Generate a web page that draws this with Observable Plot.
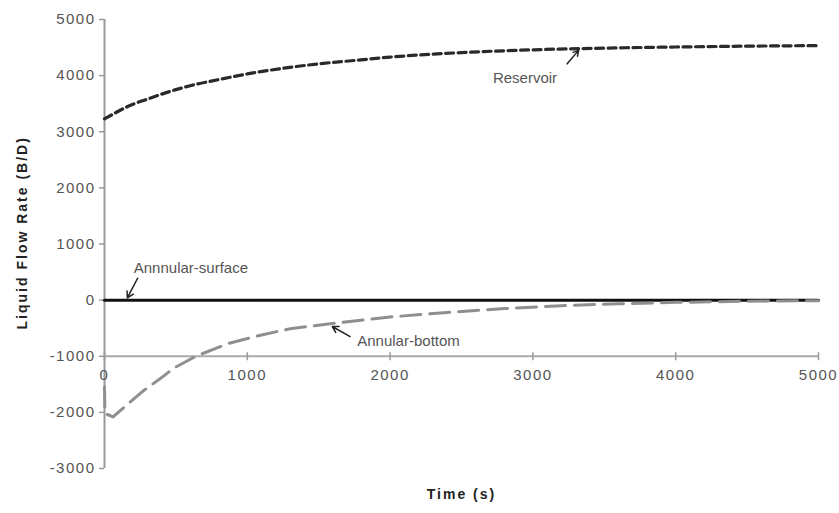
<!DOCTYPE html>
<html>
<head>
<meta charset="utf-8">
<script src="https://cdn.jsdelivr.net/npm/d3@7"></script>
<script src="https://cdn.jsdelivr.net/npm/@observablehq/plot@0.6"></script>
<style>
  html, body { margin: 0; padding: 0; background: #fff; }
</style>
</head>
<body>
<div id="chart"></div>
<script>
// ---- data ----
const xTicks = [0, 1000, 2000, 3000, 4000, 5000];
const yTicks = [-3000, -2000, -1000, 0, 1000, 2000, 3000, 4000, 5000];

const resTime  = [0, 50, 100, 200, 300, 400, 500, 600, 800, 1000, 1250, 1500, 1750, 2000, 2500, 3000, 3500, 4000, 4500, 5000];
const resValue = [3230, 3300, 3370, 3490, 3580, 3670, 3750, 3820, 3930, 4030, 4130, 4210, 4270, 4330, 4410, 4460, 4490, 4510, 4525, 4535];

const botTime  = [0, 3, 60, 150, 270, 400, 480, 640, 870, 1100, 1300, 1650, 2000, 2400, 2800, 3200, 3600, 4000, 4500, 5000];
const botValue = [-1550, -2020, -2080, -1880, -1620, -1380, -1220, -1000, -770, -620, -510, -400, -300, -220, -150, -100, -65, -40, -20, -10];

const surfTime  = [0, 5000];
const surfValue = [0, 0];

const labels = [
  {name: "Annnular-surface", t: 205, v: 570},
  {name: "Annular-bottom", t: 1770, v: -730},
  {name: "Reservoir", t: 2720, v: 3960}
];
const arrows = [
  {t1: 232, v1: 390, t2: 160, v2: 40},
  {t1: 1720, v1: -650, t2: 1595, v2: -470},
  {t1: 3240, v1: 4210, t2: 3320, v2: 4450}
];
const yTitle = "Liquid Flow Rate (B/D)";
const xTitle = "Time (s)";

const xAxisAt = -1000;

const res = resTime.map((t, i) => ({t, v: resValue[i]}));
const bot = botTime.map((t, i) => ({t, v: botValue[i]}));
const surf = surfTime.map((t, i) => ({t, v: surfValue[i]}));

const tickSymbol = { draw(ctx) { ctx.moveTo(0, -4); ctx.lineTo(0, 4); } };

const chart = Plot.plot({
  width: 839,
  height: 513,
  marginLeft: 104,
  marginRight: 21,
  marginTop: 19,
  marginBottom: 45,
  style: {fontSize: "15px", background: "#fff", fontFamily: "'Liberation Sans', Arial, sans-serif"},
  x: {domain: [0, 5000], axis: null},
  y: {domain: [-3000, 5000]},
  marks: [
    Plot.axisY({ticks: yTicks, tickSize: 5, tickPadding: 4, stroke: "#999", fill: "#555",
      strokeWidth: 1.5, tickFormat: d => String(d), label: null}),
    Plot.ruleX([0], {stroke: "#999", strokeWidth: 2}),
    Plot.ruleY([xAxisAt], {stroke: "#aaa", strokeWidth: 2}),
    Plot.dot(xTicks, {x: d => d, y: xAxisAt, symbol: tickSymbol, stroke: "#999", strokeWidth: 1.5, fill: "none"}),
    Plot.text(xTicks, {x: d => d, y: xAxisAt, text: d => String(d), dy: 19, fill: "#555", fontSize: 15}),
    Plot.line(surf, {x: "t", y: "v", stroke: "#111", strokeWidth: 3}),
    Plot.line(bot, {x: "t", y: "v", stroke: "#8f8f8f", strokeWidth: 3, strokeDasharray: "20,9"}),
    Plot.line(res, {x: "t", y: "v", stroke: "#2a2a2a", strokeWidth: 3.2, strokeDasharray: "8,4.5", curve: "monotone-x"}),
    Plot.arrow(arrows, {x1: "t1", y1: "v1", x2: "t2", y2: "v2", stroke: "#222", strokeWidth: 1.5, headLength: 7}),
    Plot.text(labels, {x: "t", y: "v", text: "name", textAnchor: "start", fill: "#555", fontSize: 15}),
    Plot.text([xTitle], {x: 2500, frameAnchor: "bottom", dy: 30, fontWeight: "bold", fill: "#222", fontSize: 14}),
    Plot.text([yTitle], {y: 1200, frameAnchor: "left", textAnchor: "middle", dx: -82, rotate: -90, fontWeight: "bold", fill: "#222", fontSize: 14})
  ]
});
const numeric = new Set([...xTicks, ...yTicks].map(String));
d3.select(chart).selectAll("text").each(function () {
  const s = this.textContent;
  if (s === yTitle || s === xTitle) this.style.letterSpacing = "2px";
  else if (numeric.has(s)) this.style.letterSpacing = "1.5px";
});
document.getElementById("chart").appendChild(chart);
</script>
</body>
</html>
